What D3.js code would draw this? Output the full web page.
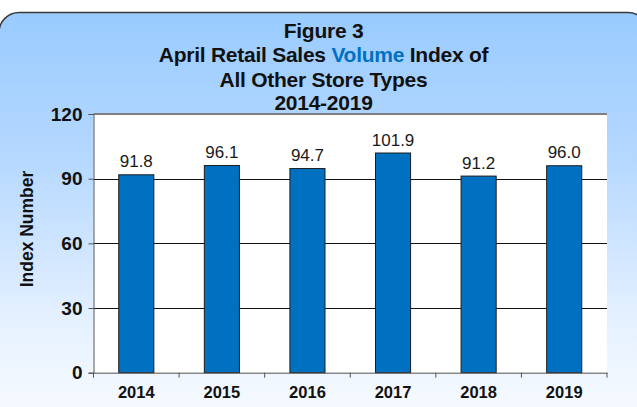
<!DOCTYPE html>
<html><head><meta charset="utf-8">
<script src="https://cdn.jsdelivr.net/npm/d3@7"></script>
<style>
html,body{margin:0;padding:0;background:#fff;}
svg{display:block;font-family:"Liberation Sans",Arial,sans-serif;}
</style></head>
<body>
<svg id="c" width="637" height="407"></svg>
<script>
const categories = ["2014","2015","2016","2017","2018","2019"];
const values = [91.8, 96.1, 94.7, 101.9, 91.2, 96.0];
const yTicks = [0, 30, 60, 90, 120];
const titleLines = ["Figure 3", "April Retail Sales |Volume| Index of", "All Other Store Types", "2014-2019"];
const yAxisTitle = "Index Number";

const svg = d3.select("#c");
const W = 637, H = 407;
const m = {left: 93.5, right: 607, top: 114, bottom: 372.7};

const defs = svg.append("defs");
const g = defs.append("linearGradient").attr("id","bg").attr("x1",0).attr("y1",0).attr("x2",0).attr("y2",1);
g.append("stop").attr("offset","0%").attr("stop-color","#99cbff");
g.append("stop").attr("offset","35%").attr("stop-color","#b5d8ff");
g.append("stop").attr("offset","75%").attr("stop-color","#e6f1ff");
g.append("stop").attr("offset","100%").attr("stop-color","#fafcff");

svg.append("rect").attr("x",-1).attr("y",12.5).attr("width",W+12).attr("height",H+10)
  .attr("rx",20).attr("ry",20).attr("fill","url(#bg)").attr("stroke","#3a3a3a").attr("stroke-width",1.5);

// title
const title = svg.append("g").attr("font-weight","bold").attr("font-size",21).attr("fill","#111")
  .attr("text-anchor","middle");
const baselines = [37.5, 62, 86.5, 110];
titleLines.forEach((line, i) => {
  const t = title.append("text").attr("x", 323.5).attr("y", baselines[i]).attr("letter-spacing", -0.25);
  line.split("|").forEach((part, j) => {
    t.append("tspan").text(part).attr("fill", j === 1 ? "#0070c0" : "#111");
  });
});

const x = d3.scaleBand().domain(categories).range([m.left, m.right]).paddingInner(0.59).paddingOuter(0.295);
const xb = d3.scaleBand().domain(categories).range([m.left, m.right]);
const y = d3.scaleLinear().domain([0,120]).range([m.bottom, m.top]);

// plot area
svg.append("rect").attr("x",m.left).attr("y",m.top).attr("width",m.right-m.left).attr("height",m.bottom-m.top).attr("fill","#fff");

// gridlines
svg.append("g").selectAll("line").data(yTicks.filter(d=>d>0 && d<120)).join("line")
  .attr("x1",m.left).attr("x2",m.right).attr("y1",d=>Math.round(y(d))+0.5).attr("y2",d=>Math.round(y(d))+0.5)
  .attr("stroke","#111").attr("stroke-width",1);
svg.append("line").attr("x1",m.left).attr("x2",m.right).attr("y1",m.top).attr("y2",m.top)
  .attr("stroke","#7f7f7f").attr("stroke-width",2);

// bars
svg.append("g").selectAll("rect").data(values).join("rect")
  .attr("x",(d,i)=>x(categories[i])).attr("width",x.bandwidth())
  .attr("y",d=>y(d)).attr("height",d=>m.bottom-y(d))
  .attr("fill","#0070c0").attr("stroke","#1c1c1c").attr("stroke-width",1);

// value labels
svg.append("g").selectAll("text").data(values).join("text")
  .attr("x",(d,i)=>x(categories[i])+x.bandwidth()/2).attr("y",d=>y(d)-7.5)
  .attr("text-anchor","middle").attr("font-size",17).attr("fill","#1a1a1a")
  .text(d=>d.toFixed(1));

// y axis
const yAxis = d3.axisLeft(y).tickValues(yTicks).tickSize(5).tickPadding(6).tickFormat(d3.format("d"));
const ya = svg.append("g").attr("transform",`translate(${m.left},0)`).call(yAxis);
ya.select(".domain").attr("stroke","#555");
ya.selectAll(".tick line").attr("stroke","#555");
ya.selectAll("text").attr("font-size",19).attr("font-weight","bold").attr("fill","#111").attr("font-family","Liberation Sans, Arial, sans-serif");

// x axis
const xAxis = d3.axisBottom(x).tickSize(0).tickPadding(14);
const xa = svg.append("g").attr("transform",`translate(0,${m.bottom})`).call(xAxis);
xa.select(".domain").attr("stroke","#555");
xa.selectAll("text").attr("font-size",16.5).attr("font-weight","bold").attr("fill","#111").attr("font-family","Liberation Sans, Arial, sans-serif");
const bounds = categories.map(c=>xb(c)).concat([m.right]);
svg.append("g").selectAll("line").data(bounds).join("line")
  .attr("x1",d=>d).attr("x2",d=>d).attr("y1",m.bottom).attr("y2",m.bottom+5).attr("stroke","#555");

// y axis title
svg.append("text").attr("transform","translate(33,229) rotate(-90)").attr("text-anchor","middle")
  .attr("font-size",17.5).attr("font-weight","bold").attr("fill","#111").text(yAxisTitle);
</script>
</body></html>
